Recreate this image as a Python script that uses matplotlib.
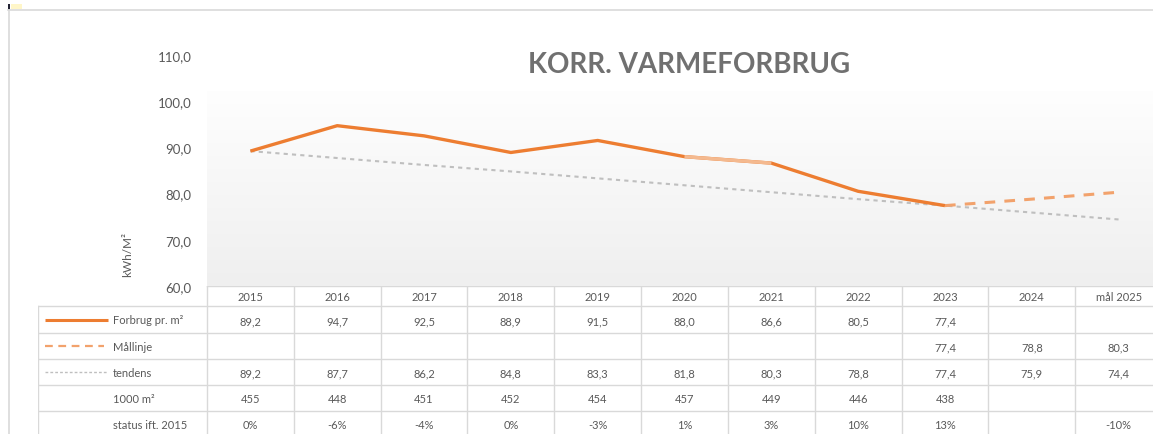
import matplotlib
matplotlib.use("Agg")
import matplotlib.pyplot as plt
import numpy as np
from matplotlib.patches import Rectangle
from matplotlib.lines import Line2D
from matplotlib.colors import LinearSegmentedColormap

plt.rcParams['font.family'] = ['Lato', 'DejaVu Sans']

# ---------------- data ----------------
categories = ['2015', '2016', '2017', '2018', '2019', '2020', '2021', '2022', '2023', '2024', 'mål 2025']
forbrug = [89.2, 94.7, 92.5, 88.9, 91.5, 88.0, 86.6, 80.5, 77.4, None, None]
maallinje = [None, None, None, None, None, None, None, None, 77.4, 78.8, 80.3]
tendens = [89.2, 87.7, 86.2, 84.8, 83.3, 81.8, 80.3, 78.8, 77.4, 75.9, 74.4]
areal = [455, 448, 451, 452, 454, 457, 449, 446, 438, None, None]
status = ['0%', '-6%', '-4%', '0%', '-3%', '1%', '3%', '10%', '13%', '', '-10%']
yticks = [60, 70, 80, 90, 100, 110]
row_labels = ['Forbrug pr. m²', 'Mållinje', 'tendens', '1000 m²', 'status ift. 2015']
title = 'KORR. VARMEFORBRUG'
ylabel = 'kWh/M²'

# ---------------- style ----------------
W, H = 1153, 435
ORANGE = '#ED7D31'
ORANGE_LIGHT = '#F4B98F'
ORANGE_DASH = '#F2A26C'
GRAY_LINE = '#BFBFBF'
TEXT = '#595959'
GRID = '#D9D9D9'

fig = plt.figure(figsize=(W / 100, H / 100), dpi=100)
fig.patch.set_facecolor('white')

def fx(px):
    return px / W

def fy(py):
    return 1 - py / H

# outer frame lines (top + left)
fig.add_artist(Line2D([fx(8), fx(1153)], [fy(11), fy(11)], color='#D9D9D9', lw=1.2))
fig.add_artist(Line2D([fx(9), fx(9)], [fy(11), fy(435)], color='#D9D9D9', lw=1.2))
fig.add_artist(Rectangle((fx(11), fy(10)), fx(11), 5 / H, color='#FFF6C8', lw=0))
fig.add_artist(Rectangle((fx(8), fy(11)), fx(2), 6 / H, color='#222233', lw=0))

# ---------------- main chart ----------------
x_left, x_right = 207, 1162
y_top, y_bot = 56, 287
ax = fig.add_axes([fx(x_left), fy(y_bot), (x_right - x_left) / W, (y_bot - y_top) / H])
n = len(categories)
x = np.arange(n)
ax.set_xlim(-0.5, n - 0.5)
ax.set_ylim(60, 110)
ax.set_facecolor('none')
for s in ax.spines.values():
    s.set_visible(False)
ax.set_xticks([])
ax.set_yticks(yticks)
ax.set_yticklabels([f'{v:.1f}'.replace('.', ',') for v in yticks], color=TEXT, fontsize=9.5)
ax.tick_params(axis='y', length=0, pad=11)

# gradient background
grad = np.linspace(0, 1, 256).reshape(-1, 1)
cmap = LinearSegmentedColormap.from_list('bg', ['#EFEFEF', '#FEFEFE'])
ax.imshow(grad, aspect='auto', cmap=cmap, origin='lower',
          extent=(-0.5, n - 0.5, 60, 102), zorder=0)

def series(vals):
    return np.array([np.nan if v is None else v for v in vals], dtype=float)

f = series(forbrug)
m = series(maallinje)
t = series(tendens)

ax.plot(x, t, color=GRAY_LINE, lw=1.5, ls=(0, (2, 2)), zorder=2)
ax.plot(x, m, color=ORANGE_DASH, lw=2.2, ls=(0, (3.5, 3)), zorder=3)
ax.plot(x, f, color=ORANGE, lw=2.4, zorder=4, solid_capstyle='butt')
# highlighted lighter segment 2020-2021
ax.plot(x[5:7], f[5:7], color=ORANGE_LIGHT, lw=2.4, zorder=5, solid_capstyle='butt')

ylab_x = (128 - x_left) / (x_right - x_left)
ylab_y = (y_bot - 255) / (y_bot - y_top)
ax.text(ylab_x, ylab_y, ylabel, transform=ax.transAxes, rotation=90, ha='center', va='center',
        fontsize=8.5, color=TEXT)

fig.text(fx(689), fy(65), title, ha='center', va='center', fontsize=20, fontweight='bold',
         color='#707070')

# ---------------- data table ----------------
col_w = (x_right - x_left) / n
t_left_px = 38
xmin = -0.5 - (x_left - t_left_px) / col_w
tab_bot = 438
tax = fig.add_axes([fx(t_left_px), fy(tab_bot), (x_right - t_left_px) / W, (tab_bot - y_bot) / H])
tax.set_xlim(xmin, n - 0.5)
tax.set_ylim(tab_bot, y_bot)
tax.axis('off')

def tx(px):
    return -0.5 + (px - x_left) / col_w

row_edges = [287, 307, 334, 360, 386, 412, 438]
for i, ye in enumerate(row_edges[:-1]):
    x0 = -0.5 if i == 0 else xmin
    tax.plot([x0, n - 0.5], [ye, ye], color=GRID, lw=1.0, zorder=1)
tax.plot([xmin, xmin], [307, tab_bot], color=GRID, lw=1.0)
for i in range(n + 1):
    tax.plot([-0.5 + i, -0.5 + i], [287, tab_bot], color=GRID, lw=1.0)

centers = [(row_edges[i] + row_edges[i + 1]) / 2 for i in range(len(row_edges) - 1)]

fs = 8
for i, c in enumerate(categories):
    tax.text(i, centers[0] + 1, c, ha='center', va='center', fontsize=fs, color=TEXT)

def fmt(v):
    return '' if v is None else f'{v:.1f}'.replace('.', ',')

rows = [
    [fmt(v) for v in forbrug],
    [fmt(v) for v in maallinje],
    [fmt(v) for v in tendens],
    ['' if v is None else str(v) for v in areal],
    status,
]
for r, vals in enumerate(rows):
    for i, s in enumerate(vals):
        tax.text(i, centers[r + 1] + 1, s, ha='center', va='center', fontsize=fs, color=TEXT)

label_x = tx(113)
for r, lab in enumerate(row_labels):
    tax.text(label_x, centers[r + 1] + 0.5, lab, ha='left', va='center', fontsize=fs, color=TEXT)

# legend keys
tax.plot([tx(45), tx(108)], [centers[1], centers[1]], color=ORANGE, lw=2.2, solid_capstyle='butt')
tax.plot([tx(45), tx(104)], [centers[2], centers[2]], color=ORANGE_DASH, lw=1.6, ls=(0, (3.5, 2.5)))
tax.plot([tx(45), tx(108)], [centers[3], centers[3]], color=GRAY_LINE, lw=1.0, ls=(0, (2, 1.5)))

fig.savefig('out.png', dpi=100)
